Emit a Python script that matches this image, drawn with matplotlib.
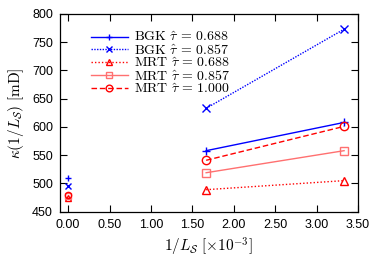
import matplotlib
matplotlib.use('Agg')
import matplotlib.pyplot as plt

# 1/L_S [x1e-3]; extrapolated values at 0 drawn as points only
x_sim = [1.667, 3.333]
x_ext = [0.0]

labels = [r'$\mathrm{BGK}\ \hat{\tau}\,=\,0.688$', r'$\mathrm{BGK}\ \hat{\tau}\,=\,0.857$',
          r'$\mathrm{MRT}\ \hat{\tau}\,=\,0.688$', r'$\mathrm{MRT}\ \hat{\tau}\,=\,0.857$',
          r'$\mathrm{MRT}\ \hat{\tau}\,=\,1.000$']
k_sim = [[558, 608], [633, 773], [489, 505], [519, 558], [541, 601]]
k_ext = [[510], [495], [475], [477], [480]]

colors = ['#0000ff', '#0000ff', '#ff0000', '#ff7070', '#ff0000']
styles = ['-', (0, (1, 1)), (0, (1, 1.5)), '-', (0, (4, 2))]
markers = ['+', 'x', '^', 's', 'o']

plt.rcParams['mathtext.fontset'] = 'cm'
plt.rcParams['font.family'] = 'Liberation Sans'

fig = plt.figure(figsize=(3.74, 2.63), dpi=100)
ax = fig.add_axes([0.16, 0.195, 0.797, 0.752])

for i in range(len(labels)):
    ax.plot(x_sim, k_sim[i], color=colors[i], ls=styles[i], lw=1.0, marker=markers[i],
            ms=6, mfc='none', mew=1.0, label=labels[i])
    ax.plot(x_ext, k_ext[i], color=colors[i], ls='none', marker=markers[i],
            ms=4.5, mfc='none', mew=1.0)

ax.set_xlim(-0.1, 3.5)
ax.set_ylim(450, 800)
ax.set_xticks([0, 0.5, 1.0, 1.5, 2.0, 2.5, 3.0, 3.5])
ax.set_xticklabels([f'{v:.2f}' for v in ax.get_xticks()])
ax.tick_params(direction='in', top=True, right=True, labelsize=9, length=5, pad=5)
for s in ax.spines.values():
    s.set_linewidth(0.9)

ax.set_xlabel(r'$1/L_{\mathcal{S}}\ [\times 10^{-3}]$', fontsize=11)
ax.set_ylabel(r'$\kappa(1/L_{\mathcal{S}})\ [\mathrm{mD}]$', fontsize=11)

ax.legend(loc='upper left', bbox_to_anchor=(0.085, 0.945), frameon=False, fontsize=10,
          handlelength=2.7, handletextpad=0.4, labelspacing=-0.08, borderaxespad=0,
          markerscale=0.8)

fig.savefig('out.png', dpi=100)
